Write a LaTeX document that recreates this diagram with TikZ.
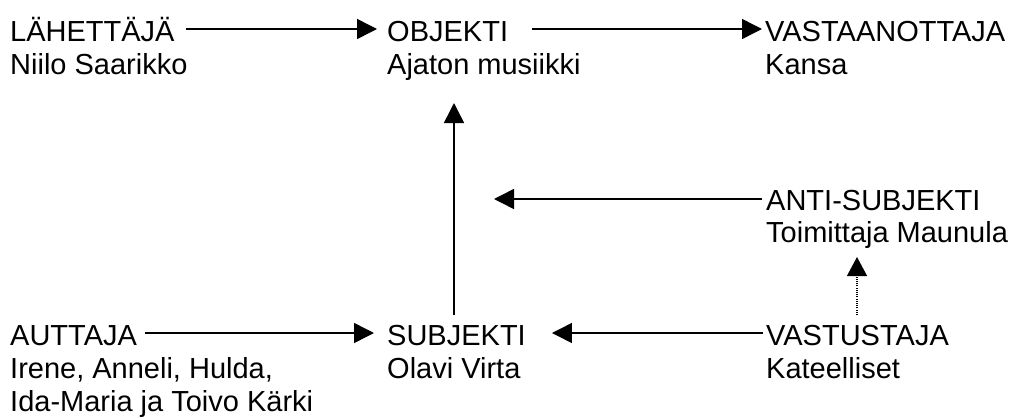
\documentclass[tikz,border=0pt]{standalone}
\usepackage{fontspec}
\setmainfont{Liberation Sans}
\usetikzlibrary{arrows.meta}
\begin{document}
\begin{tikzpicture}[x=1pt,y=-1pt,
  lbl/.style={anchor=base west,inner sep=0pt,font=\fontsize{29}{33}\selectfont},
  conn/.style={line width=1.5pt,-{Triangle[length=20pt,width=20pt]}},
  dconn/.style={line width=1.2pt,dash pattern=on 1pt off 1.2pt,-{Triangle[length=19pt,width=20pt]}}]
\useasboundingbox (0,0) rectangle (1018,418);
% row 1
\node[lbl] (lah) at (10,41) {LÄHETTÄJÄ};
\node[lbl] (lahn) at (10,74) {Niilo Saarikko};
\node[lbl] (obj) at (387,41) {OBJEKTI};
\node[lbl] (objn) at (387,74) {Ajaton musiikki};
\node[lbl] (vas) at (765,41) {VASTAANOTTAJA};
\node[lbl] (vasn) at (765,74) {Kansa};
% row 2
\node[lbl] (ant) at (766,210) {ANTI-SUBJEKTI};
\node[lbl] (antn) at (766,242) {Toimittaja Maunula};
\coordinate (antend) at (494,199);
% row 3
\node[lbl] (aut) at (10,345) {AUTTAJA};
\node[lbl] (autn) at (10,378) {Irene, Anneli, Hulda,};
\node[lbl] (autm) at (10,411) {Ida-Maria ja Toivo Kärki};
\node[lbl] (sub) at (387,345) {SUBJEKTI};
\node[lbl] (subn) at (387,378) {Olavi Virta};
\node[lbl] (vst) at (766,345) {VASTUSTAJA};
\node[lbl] (vstn) at (766,378) {Kateelliset};
% connectors
\draw[conn] ([xshift=11pt,yshift=12pt]lah.base east) -- ([xshift=-10pt,yshift=12pt]obj.base west);
\draw[conn] ([xshift=24pt,yshift=12pt]obj.base east) -- ([xshift=-3pt,yshift=12pt]vas.base west);
\draw[conn] ([xshift=-4pt,yshift=11pt]ant.base west) -- (antend);
\draw[conn] ([xshift=8pt,yshift=12pt]aut.base east) -- ([xshift=-13pt,yshift=12pt]sub.base west);
\draw[conn] ([xshift=-3pt,yshift=12pt]vst.base west) -- ([xshift=26pt,yshift=12pt]sub.base east);
\coordinate (vbot) at (454,315);
\coordinate (vtop) at (454,103);
\draw[conn] (vbot) -- (vtop);
\coordinate (dbot) at (857,315);
\coordinate (dtop) at (857,257);
\draw[dconn] (dbot) -- (dtop);
\end{tikzpicture}
\end{document}
